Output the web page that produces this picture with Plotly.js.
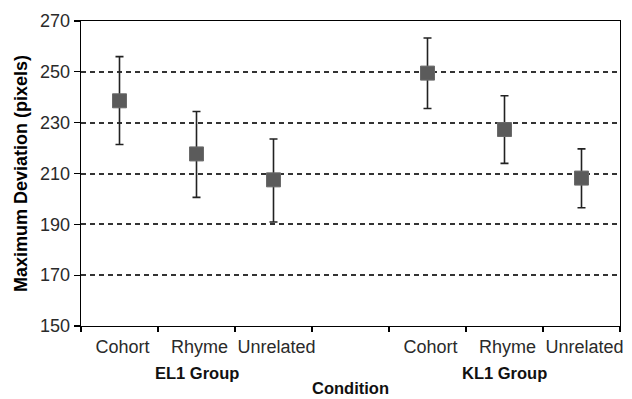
<!DOCTYPE html>
<html>
<head>
<meta charset="utf-8">
<script src="https://cdn.plot.ly/plotly-3.0.1.min.js"></script>
<style>html,body{margin:0;padding:0;background:#fff;}#chart{width:632px;height:399px;}</style>
</head>
<body>
<div id="chart"></div>
<script>
const categories = ["EL1 Cohort", "EL1 Rhyme", "EL1 Unrelated", "gap", "KL1 Cohort", "KL1 Rhyme", "KL1 Unrelated"];
const tickLabels = ["Cohort", "Rhyme", "Unrelated", "", "Cohort", "Rhyme", "Unrelated"];
const means = [238.6, 217.7, 207.5, null, 249.5, 227.3, 208.2];
const errPlus = [17.4, 16.7, 16.1, null, 13.8, 13.3, 11.5];
const errMinus = [17.2, 17.1, 16.6, null, 13.9, 13.3, 11.7];
const yTicks = [150, 170, 190, 210, 230, 250, 270];
const groupLabels = ["EL1 Group", "KL1 Group"];
const groupCenters = ["EL1 Rhyme", "KL1 Rhyme"];
const xTitle = "Condition";
const yTitle = "Maximum Deviation (pixels)";

const trace = {
  type: "scatter",
  mode: "markers",
  x: categories,
  y: means,
  marker: {symbol: "square", size: 14, color: "#5b5b5b", line: {color: "#6a6a6a", width: 1}},
  error_y: {type: "data", symmetric: false, array: errPlus, arrayminus: errMinus, color: "#222", thickness: 1.6, width: 4},
  hoverinfo: "skip",
  showlegend: false
};

const annotations = groupLabels.map((t, i) => ({
  text: "<b>" + t + "</b>", x: groupCenters[i], xref: "x", y: 0, yref: "paper",
  yanchor: "middle", yshift: -47, showarrow: false,
  font: {family: "Liberation Sans, Arial", size: 16.5, color: "#111"}
}));
annotations.push({
  text: "<b>" + xTitle + "</b>", x: 0.5, xref: "paper", y: 0, yref: "paper",
  yanchor: "middle", yshift: -62, showarrow: false,
  font: {family: "Liberation Sans, Arial", size: 16.5, color: "#111"}
});

const layout = {
  width: 632, height: 399,
  margin: {l: 81, r: 12, t: 21, b: 73},
  paper_bgcolor: "#fff", plot_bgcolor: "#fff",
  font: {family: "Liberation Sans, Arial", color: "#222"},
  xaxis: {
    type: "category", categoryorder: "array", categoryarray: categories,
    tickmode: "array", tickvals: categories, ticktext: tickLabels, tickangle: 0,
    tickson: "boundaries", ticks: "outside", ticklen: 5, tickcolor: "#000", tickwidth: 1.3,
    ticklabelshift: 3, ticklabelstandoff: 4,
    showgrid: false, showline: true, linecolor: "#000", linewidth: 1.3, mirror: true,
    tickfont: {size: 18, color: "#2a2a2a"},
    range: [-0.5, 6.5]
  },
  yaxis: {
    range: [150, 270], tickmode: "array", tickvals: yTicks,
    ticks: "outside", ticklen: 6, tickcolor: "#000", tickwidth: 1.3,
    showgrid: true, gridcolor: "#333", griddash: "5px,4px", gridwidth: 2,
    showline: true, linecolor: "#000", linewidth: 1.3, zeroline: false, mirror: true,
    tickfont: {size: 18, color: "#2a2a2a"},
    title: {text: "<b>" + yTitle + "</b>", font: {size: 18, color: "#000"}, standoff: 7}
  },
  annotations: annotations
};

Plotly.newPlot("chart", [trace], layout, {displayModeBar: false, staticPlot: true});
</script>
</body>
</html>
